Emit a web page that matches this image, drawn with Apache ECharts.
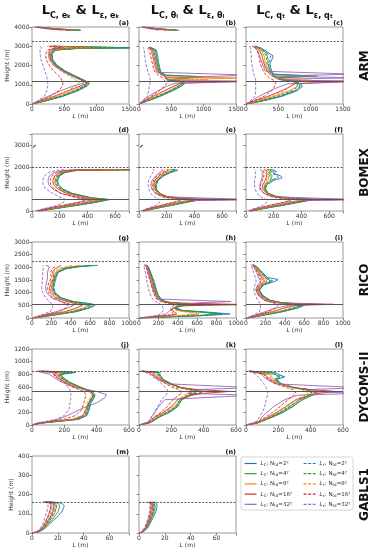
<!DOCTYPE html>
<html><head><meta charset="utf-8">
<script src="https://cdn.jsdelivr.net/npm/echarts@6/dist/echarts.min.js"></script>
<style>html,body{margin:0;padding:0;background:#fff}#c{width:373px;height:550px}</style>
</head><body><div id="c"></div>
<script>
// ---------- axis / case settings ----------
const caseNames = ['ARM', 'BOMEX', 'RICO', 'DYCOMS-II', 'GABLS1'];
const xMax = [1500, 700, 1000, 600, 75];
const xStep = [500, 200, 200, 200, 20];
const yMax = [4000, 3500, 3000, 1200, 400];
const yStep = [1000, 1000, 500, 200, 100];
const blLine = [1180, 520, 525, 528, null];
const topLine = [3260, 2000, 2240, 850, 160];
const sizeLabels = ['2²', '4²', '8²', '16²', '32²'];

// ---------- ARM ----------
const zA = [0,150,400,700,950,1080,1200,1400,1700,2000,2300,2600,2800,2880,2920,3000,3400,3830,3900,4000];
const aC = [
 [0,200,480,720,860,890,830,700,520,390,320,310,360,700,1600,330,null,760,400,60],
 [0,190,460,700,850,885,830,700,520,390,320,300,350,650,1500,320,null,740,380,80],
 [0,160,400,640,810,870,820,690,500,370,300,290,330,550,1200,300,null,700,350,90],
 [0,130,340,570,760,850,810,680,490,360,290,270,300,450,900,280,null,650,320,100],
 [0,90,250,450,650,800,790,650,470,340,270,250,270,330,500,260,null,600,300,100]];
const aE = [
 [0,190,460,690,830,860,800,680,500,380,310,300,340,650,1500,320,null,740,380,60],
 [0,180,440,670,810,850,790,670,500,370,300,290,330,600,1400,310,null,720,360,70],
 [0,140,360,560,680,730,700,600,450,330,270,260,290,450,900,280,null,650,330,60],
 [0,110,280,420,470,480,470,430,340,270,220,210,240,320,450,230,null,560,280,40],
 [0,80,190,230,245,245,240,230,200,170,140,125,125,130,150,120,null,450,230,20]];

const zB = [0,150,400,700,950,1080,1180,1200,1260,1350,1420,1500,1650,1900,2200,2500,2800,2950,3400,3830,3900,4000];
const bC = [
 [0,130,330,530,670,710,620,520,480,470,900,420,340,320,300,290,270,180,null,620,330,60],
 [0,120,310,510,660,705,620,520,480,460,1000,410,330,310,290,270,250,170,null,600,320,70],
 [0,100,270,470,620,680,640,560,500,1600,430,390,310,290,270,250,230,160,null,560,300,70],
 [0,80,220,400,560,650,1700,480,440,420,400,370,300,270,250,230,210,150,null,520,280,60],
 [0,50,150,300,450,560,1700,440,410,400,390,1700,280,250,230,210,190,140,null,480,260,50]];
const bE = [
 [0,120,310,500,640,690,600,500,460,440,420,380,320,300,280,270,250,170,null,580,310,50],
 [0,110,290,480,620,670,590,500,460,440,410,370,310,290,270,250,230,160,null,560,300,60],
 [0,90,240,400,540,600,700,900,1060,450,380,340,280,250,230,210,190,140,null,500,270,60],
 [0,70,190,320,400,430,420,400,380,360,330,300,250,220,200,180,160,120,null,420,230,40],
 [0,50,130,150,160,170,175,175,175,170,165,160,140,120,100,90,80,70,null,300,160,20]];

const zC = [0,150,400,700,900,1050,1180,1230,1290,1360,1450,1550,1700,1900,2100,2300,2500,2700,2900,3000];
const cC = [
 [0,250,560,800,870,850,740,640,560,500,1000,430,400,380,370,400,420,330,240,150],
 [0,230,530,770,840,830,730,630,550,490,1100,420,380,360,340,340,330,300,220,140],
 [0,180,440,680,780,800,720,1000,560,480,440,400,350,320,300,290,280,250,200,130],
 [0,130,340,560,680,760,1700,600,520,460,420,380,330,300,280,260,250,220,180,120],
 [0,80,200,380,520,650,1700,560,490,1700,400,1700,300,270,250,230,210,190,150,100]];
const cE = [
 [0,230,520,760,830,820,720,620,540,480,440,410,380,360,350,370,380,300,220,140],
 [0,210,490,720,800,800,700,610,530,470,430,400,360,340,320,320,310,280,200,130],
 [0,160,400,600,680,720,800,1000,600,450,400,360,320,290,270,260,250,220,180,120],
 [0,110,280,400,440,460,450,430,400,360,330,300,270,240,220,210,200,180,150,100],
 [0,60,140,150,150,150,150,150,145,140,130,120,110,100,90,85,80,75,70,60]];

// ---------- BOMEX ----------
const zD = [0,100,250,400,520,600,800,1000,1200,1400,1600,1750,1850,1880,2400,2920,2980];
const dC = [
 [60,160,320,470,560,430,290,220,190,185,200,240,330,800,null,10,25],
 [55,155,310,460,555,430,290,220,190,180,195,235,320,800,null,10,25],
 [50,140,290,440,540,410,270,200,170,165,180,220,300,800,null,10,25],
 [40,120,260,400,510,380,250,185,155,150,165,200,280,750,null,10,25],
 [30,90,210,340,460,340,210,150,120,115,125,160,230,400,null,10,25]];
const dE = [
 [55,150,300,450,540,420,280,210,180,175,190,230,310,750,null,12,22],
 [50,145,290,440,535,415,275,205,175,170,185,225,300,750,null,12,22],
 [45,130,270,410,500,390,250,185,160,155,170,205,280,650,null,12,22],
 [35,110,230,340,400,320,210,160,135,130,145,180,250,500,null,12,22],
 [25,80,180,230,240,210,150,100,80,78,90,120,180,230,null,12,22]];

const zE = [0,100,250,400,480,520,560,650,800,1000,1200,1400,1600,1750,1850,1900,2400,2920,2980];
const eC = [
 [40,110,230,350,410,420,300,200,150,125,125,140,180,230,280,250,null,10,25],
 [40,105,225,345,405,415,300,200,150,125,122,135,175,220,260,240,null,10,25],
 [35,95,210,330,400,430,330,210,150,120,115,125,160,200,230,220,null,10,25],
 [30,85,190,310,420,800,350,200,140,110,105,115,145,180,210,200,null,10,25],
 [20,60,150,260,380,800,800,180,120,90,85,95,120,150,170,160,null,10,25]];
const eE = [
 [35,100,215,330,390,400,290,190,145,120,120,135,170,220,260,240,null,12,22],
 [35,95,210,325,385,395,285,190,140,118,118,130,165,210,250,230,null,12,22],
 [30,85,190,300,360,370,270,180,135,110,108,118,150,190,220,210,null,12,22],
 [25,70,160,250,300,310,240,160,120,98,95,105,130,165,190,180,null,12,22],
 [15,50,120,150,150,150,130,110,85,70,65,70,85,100,110,100,null,12,22]];

const zF = [0,100,250,400,480,520,560,650,800,1000,1200,1400,1500,1600,1700,1800,1900];
const fC = [
 [40,120,260,390,450,470,330,220,160,140,150,200,260,250,200,220,180],
 [40,115,250,380,445,465,330,220,160,140,150,200,180,190,170,190,160],
 [35,105,235,365,440,480,360,230,160,130,135,160,160,170,160,170,150],
 [30,90,210,340,450,800,380,220,150,120,120,140,145,150,145,150,130],
 [20,65,160,280,400,800,800,200,130,100,100,110,115,120,115,120,100]];
const fE = [
 [35,110,245,370,430,450,320,210,155,135,140,180,230,230,190,200,170],
 [35,105,235,360,425,445,320,210,155,135,140,180,170,175,160,175,150],
 [30,95,215,330,390,410,300,200,145,120,125,145,150,155,150,155,140],
 [25,80,180,270,320,330,260,180,130,105,105,120,125,130,125,130,120],
 [15,50,120,150,150,150,130,105,80,65,60,62,65,68,66,70,60]];

// ---------- RICO ----------
const zG = [0,100,250,400,500,560,650,800,1000,1200,1400,1600,1800,1950,2030,2080];
const gC = [
 [20,200,460,600,650,620,430,300,240,225,235,250,270,360,500,680],
 [20,190,440,580,630,600,420,290,230,215,225,240,260,340,480,650],
 [15,170,400,530,580,560,400,270,210,200,210,225,240,300,400,500],
 [10,140,340,460,520,500,360,240,190,180,200,230,210,240,280,300],
 [5,100,250,370,430,420,300,200,150,140,150,160,160,170,180,140]];
const gE = [
 [18,190,440,570,610,590,410,290,230,215,225,240,260,340,470,620],
 [18,180,420,550,590,570,400,280,220,205,215,230,250,320,450,600],
 [14,150,360,470,500,490,360,250,200,185,195,205,220,270,360,420],
 [10,120,280,350,370,360,300,210,170,160,175,200,190,210,240,250],
 [5,80,190,210,215,210,180,140,110,100,105,110,110,115,120,110]];

const zH = [0,50,100,160,220,300,400,480,530,600,650,750,900,1100,1400,1700,2000,2100];
const hC = [
 [20,350,700,940,750,450,380,430,590,350,280,230,200,180,160,130,100,80],
 [20,320,650,850,700,430,370,420,580,340,270,220,195,175,150,125,95,75],
 [15,250,480,620,560,400,360,420,650,330,260,210,185,165,145,120,90,70],
 [10,180,320,390,380,340,350,450,1100,320,250,200,175,155,135,110,85,65],
 [5,120,220,280,300,320,360,420,480,600,950,190,165,145,125,100,80,60]];
const hE = [
 [18,320,640,860,700,430,370,420,540,330,265,220,190,170,150,125,95,75],
 [18,300,600,780,650,410,360,410,530,320,260,215,185,165,145,120,90,70],
 [14,220,420,560,520,380,350,380,450,300,240,200,175,155,135,110,85,65],
 [10,150,280,350,360,330,330,350,380,270,220,180,160,140,120,95,75,55],
 [5,100,180,220,240,250,250,240,230,200,170,140,120,100,85,70,55,45]];

const zI = [0,100,250,400,500,540,600,700,900,1100,1300,1450,1520,1600,1800,2000,2100];
const iC = [
 [20,170,380,540,600,620,380,250,170,140,180,300,330,220,170,120,80],
 [20,160,370,530,590,610,370,240,165,135,170,260,270,200,160,115,75],
 [15,140,330,480,560,650,360,230,155,125,155,220,230,180,145,105,70],
 [10,110,270,400,520,900,340,210,140,115,140,190,200,160,130,95,65],
 [5,80,200,320,440,780,300,190,125,100,120,150,160,130,110,80,55]];
const iE = [
 [18,160,360,510,570,580,360,240,165,135,170,280,300,210,160,115,75],
 [18,150,350,500,560,570,350,230,160,130,160,250,260,195,155,110,70],
 [14,120,290,400,450,460,330,215,150,120,145,200,210,170,140,100,65],
 [10,100,230,300,330,340,280,190,130,105,125,165,175,145,120,90,60],
 [5,70,140,150,150,150,140,120,95,80,90,105,110,95,80,60,45]];

// ---------- DYCOMS-II ----------
const zJ = [0,30,60,90,150,250,350,430,480,530,600,680,760,800,830,850];
const jC = [
 [0,60,180,290,340,355,365,385,390,370,300,230,190,180,270,60],
 [0,55,170,280,335,350,360,380,388,368,295,225,185,175,260,60],
 [0,50,160,270,330,345,355,375,385,365,290,215,170,160,200,50],
 [0,45,140,250,315,335,350,370,380,360,270,200,150,140,160,40],
 [0,40,110,160,220,300,400,450,460,400,260,180,130,110,120,30]];
const jE = [
 [0,55,170,280,330,345,355,375,380,360,290,220,180,170,250,60],
 [0,50,160,270,325,340,350,370,378,358,285,215,175,165,240,60],
 [0,45,150,255,315,330,340,360,370,350,275,205,160,150,190,50],
 [0,40,120,200,270,310,320,330,335,320,250,190,150,130,150,40],
 [0,30,90,150,200,230,235,240,240,240,220,200,170,140,110,30]];

const zK = [0,30,60,130,200,290,400,470,500,530,560,590,650,720,790,830,850];
const kC = [
 [0,60,85,130,190,240,265,320,370,390,330,260,200,150,130,130,20],
 [0,60,85,125,185,235,265,320,370,390,330,260,200,150,120,120,20],
 [0,55,80,115,170,220,255,320,380,400,340,260,195,140,110,100,20],
 [0,50,75,100,150,200,240,320,400,560,360,260,190,130,95,80,20],
 [0,40,65,80,100,120,160,700,300,340,360,700,180,120,80,60,15]];
const kE = [
 [0,58,82,125,180,230,255,300,340,360,310,250,195,145,125,120,20],
 [0,58,82,120,175,225,255,300,340,360,310,250,195,145,118,115,20],
 [0,52,76,110,160,205,240,280,310,330,290,235,180,130,100,90,20],
 [0,45,70,95,135,175,210,245,265,275,250,210,165,120,85,70,15],
 [0,35,60,75,95,115,140,165,175,180,175,165,140,110,70,40,10]];

const zL = [0,30,60,130,200,290,400,470,500,530,560,590,650,720,760,800,830,850];
const lC = [
 [0,70,100,170,230,290,350,410,440,450,380,300,220,190,240,200,180,20],
 [0,70,100,165,225,285,350,410,440,450,380,300,215,180,210,180,170,20],
 [0,65,95,155,210,270,335,400,440,455,390,300,210,170,160,150,150,20],
 [0,60,90,140,190,245,310,390,450,550,400,290,200,150,130,120,110,20],
 [0,45,80,100,130,170,240,320,700,380,400,700,180,130,110,95,80,15]];
const lE = [
 [0,65,95,160,215,270,330,385,410,420,360,290,215,185,230,195,170,20],
 [0,65,95,155,210,265,330,385,410,420,360,290,210,175,200,175,160,20],
 [0,60,88,145,195,250,310,360,385,395,345,280,200,160,150,140,140,20],
 [0,55,80,125,165,210,260,295,310,315,290,250,185,140,120,110,100,15],
 [0,40,65,85,100,115,125,132,134,135,130,125,110,90,75,60,40,10]];

// ---------- GABLS1 ----------
const zM = [0,5,15,30,50,80,110,140,155,163];
const mC = [
 [0,5,8,11,14,19,23,25,23,14],
 [0,4.5,7.5,10.5,13,17,20,21.5,20,12],
 [0,4,7,10,12,15.5,18,19,18,11],
 [0,3.5,6.5,9,11,14,16,17,16,10],
 [0,3,6,8,10,12,14,15,14,9]];
const mE = [
 [0,4,7,9.5,12,15,17.5,19,18,12],
 [0,3.8,6.8,9,11.5,14,16.5,18,17,11],
 [0,3.5,6.3,8.5,10.5,13,15,16,15,10],
 [0,3.2,5.8,8,9.8,12,13.5,14.5,14,9.5],
 [0,2.8,5.2,7,8.5,10,11.5,12.5,12,8.5]];

const zN = [0,5,15,30,50,80,110,140,155,163];
const nC = [
 [0,3,5,7,8.5,11,13,14,13.5,12],
 [0,2.8,4.6,6.5,8,10,12,12.5,12,11],
 [0,2.6,4.3,6,7.5,9.5,11,11.5,11,10],
 [0,2.4,4,5.6,7,8.8,10,10.5,10,9],
 [0,2.2,3.6,5,6.3,8,9,9.5,9,7.5]];
const nE = [
 [0,2.6,4.4,6.2,7.6,9.6,11,12,11.5,10],
 [0,2.5,4.2,5.9,7.2,9,10.5,11,10.5,9.5],
 [0,2.3,3.9,5.5,6.8,8.4,9.8,10.2,9.8,9],
 [0,2.1,3.6,5,6.2,7.8,9,9.4,9,8],
 [0,1.9,3.2,4.5,5.6,7,8,8.4,8,7]];

// ---------- layout ----------
const colors = ['#1f77b4', '#2ca02c', '#ff7f0e', '#d62728', '#9467bd'];
const colLeft = [32, 139, 246];
const panelW = 97;
const rowTop = [27, 134, 242, 349, 456];
const rowH = [77, 77, 76, 76, 77];
const FONT = 'DejaVu Sans';
const DASH = [3, 1.6];

const panels = [
  {row:0,col:0,z:zA,C:aC,E:aE}, {row:0,col:1,z:zB,C:bC,E:bE}, {row:0,col:2,z:zC,C:cC,E:cE},
  {row:1,col:0,z:zD,C:dC,E:dE}, {row:1,col:1,z:zE,C:eC,E:eE}, {row:1,col:2,z:zF,C:fC,E:fE},
  {row:2,col:0,z:zG,C:gC,E:gE}, {row:2,col:1,z:zH,C:hC,E:hE}, {row:2,col:2,z:zI,C:iC,E:iE},
  {row:3,col:0,z:zJ,C:jC,E:jE}, {row:3,col:1,z:zK,C:kC,E:kE}, {row:3,col:2,z:zL,C:lC,E:lE},
  {row:4,col:0,z:zM,C:mC,E:mE}, {row:4,col:1,z:zN,C:nC,E:nE}
];
const letters = 'abcdefghijklmn';

const grids = [], xAxes = [], yAxes = [], series = [], graphics = [];

function mkSeries(L, z, k, name, color, dashed) {
  return {
    type: 'line', name: name, xAxisIndex: k, yAxisIndex: k,
    data: z.map((zz, i) => (L[i] == null ? ['-', zz] : [L[i], zz])),
    symbol: 'none', showSymbol: false, connectNulls: false, clip: true,
    silent: true, animation: false, emphasis: {disabled: true},
    lineStyle: {width: 0.9, color: color, type: dashed ? DASH : 'solid'},
    itemStyle: {color: color}
  };
}

panels.forEach((p, k) => {
  const r = p.row, c = p.col;
  grids.push({left: colLeft[c], top: rowTop[r], width: panelW, height: rowH[r],
    show: true, borderColor: '#808080', borderWidth: 0.8, backgroundColor: 'transparent'});
  const xs = xStep[r], ys = yStep[r];
  xAxes.push({gridIndex: k, type: 'value', min: 0, max: xMax[r], interval: xs,
    axisLine: {show: false}, splitLine: {show: false},
    axisTick: {show: true, length: 2.5, lineStyle: {color: '#555', width: 0.7}},
    axisLabel: {fontSize: 6, color: '#333', margin: 2.5, fontFamily: FONT,
      formatter: v => (v % xs === 0 ? String(v) : '')},
    name: '{i|L} (m)', nameLocation: 'middle', nameGap: 9,
    nameTextStyle: {fontSize: 6, color: '#333', fontFamily: FONT,
      rich: {i: {fontStyle: 'italic', fontSize: 6, fontFamily: FONT, color: '#333'}}}});
  yAxes.push({gridIndex: k, type: 'value', min: 0, max: yMax[r], interval: ys,
    axisLine: {show: false}, splitLine: {show: false},
    axisTick: {show: true, length: 2.5, lineStyle: {color: '#555', width: 0.7}},
    axisLabel: {show: c === 0, fontSize: 6, color: '#333', margin: 2.5, fontFamily: FONT,
      formatter: v => (v % ys === 0 ? String(v) : '')},
    name: c === 0 ? 'Height (m)' : '', nameLocation: 'middle', nameGap: 18,
    nameTextStyle: {fontSize: 6, color: '#333', fontFamily: FONT}});
  for (let j = 0; j < 5; j++) {
    const s = mkSeries(p.C[j], p.z, k, 'C' + j, colors[j], false);
    if (j === 0) {
      const ml = [];
      if (blLine[r] != null) ml.push({yAxis: blLine[r], lineStyle: {color: '#555', width: 1.1, type: 'solid'}});
      ml.push({yAxis: topLine[r], lineStyle: {color: '#333', width: 0.8, type: [2, 1.5]}});
      s.markLine = {silent: true, symbol: ['none', 'none'], label: {show: false}, animation: false, data: ml};
    }
    series.push(s);
  }
  for (let j = 0; j < 5; j++) series.push(mkSeries(p.E[j], p.z, k, 'E' + j, colors[j], true));
  graphics.push({type: 'text', x: colLeft[c] + panelW, y: rowTop[r] - 0.5,
    style: {text: '(' + letters[k] + ')', font: 'bold 6.5px ' + FONT, fill: '#111',
      align: 'right', verticalAlign: 'bottom', textAlign: 'right', textVerticalAlign: 'bottom'}});
});

// column titles
const colTitles = [
  '{b|L}{s|C, eₖ}{b| & L}{s|ε, eₖ}',
  '{b|L}{s|C, θₗ}{b| & L}{s|ε, θₗ}',
  '{b|L}{s|C, qₜ}{b| & L}{s|ε, qₜ}'
];
colTitles.forEach((t, c) => {
  graphics.push({type: 'text', x: colLeft[c] + panelW / 2, y: 12,
    style: {text: t, align: 'center', verticalAlign: 'middle', textAlign: 'center', textVerticalAlign: 'middle',
      rich: {
        b: {font: 'bold 13px ' + FONT, fill: '#111', lineHeight: 16, verticalAlign: 'top'},
        s: {font: 'bold 8px ' + FONT, fill: '#111', lineHeight: 8, verticalAlign: 'bottom'}
      }}});
});
// row labels
caseNames.forEach((n, r) => {
  graphics.push({type: 'text', x: 365, y: rowTop[r] + rowH[r] / 2, rotation: Math.PI / 2,
    style: {text: n, font: 'bold 12px ' + FONT, fill: '#111',
      align: 'center', verticalAlign: 'middle', textAlign: 'center', textVerticalAlign: 'middle'}});
});
// legend frame
graphics.push({type: 'rect', z: 0, shape: {x: 241, y: 457, width: 112, height: 53, r: 2},
  style: {fill: '#fff', stroke: '#cccccc', lineWidth: 0.8}});

function legendFmt(name) {
  const j = +name.slice(1);
  const sub = name[0] === 'C' ? 'C' : 'ε';
  return '{i|L}{s|' + sub + '}{n|: N}{s|td}{n|=' + sizeLabels[j] + '}';
}
const legendRich = {
  i: {fontStyle: 'italic', fontSize: 5.5, lineHeight: 7, fontFamily: FONT, color: '#333'},
  n: {fontSize: 5.5, lineHeight: 7, fontFamily: FONT, color: '#333'},
  s: {fontSize: 4, lineHeight: 4, verticalAlign: 'bottom', fontFamily: FONT, color: '#333'}
};
function legItems(prefix, dashed) {
  return colors.map((col, j) => ({
    name: prefix + j,
    itemStyle: {opacity: 0, borderWidth: 0},
    lineStyle: {color: col, width: 1.2, type: dashed ? DASH : 'solid', opacity: 1}
  }));
}
const legBase = {orient: 'vertical', top: 460, itemWidth: 12, itemHeight: 7, itemGap: 3.2,
  selectedMode: false, z: 20, formatter: legendFmt, padding: 0,
  textStyle: {fontSize: 5.5, lineHeight: 7, fontFamily: FONT, color: '#333', padding: [0, 0, 0, -1], rich: legendRich}};

const option = {
  animation: false,
  backgroundColor: '#fff',
  textStyle: {fontFamily: FONT},
  grid: grids, xAxis: xAxes, yAxis: yAxes, series: series,
  legend: [
    Object.assign({}, legBase, {left: 244, data: legItems('C', false)}),
    Object.assign({}, legBase, {left: 303, data: legItems('E', true)})
  ],
  graphic: graphics
};
const chart = echarts.init(document.getElementById('c'), null, {renderer: 'canvas'});
chart.setOption(option);
</script></body></html>
